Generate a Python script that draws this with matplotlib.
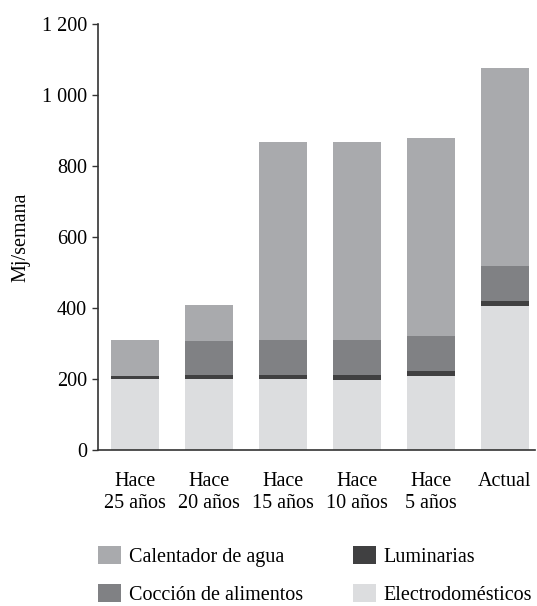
import matplotlib
matplotlib.use("Agg")
import matplotlib.pyplot as plt
import numpy as np
from matplotlib.patches import Patch

categories = ["Hace\n25 años", "Hace\n20 años", "Hace\n15 años", "Hace\n10 años", "Hace\n5 años", "Actual"]
electrodomesticos = [199, 200, 200, 197, 208, 407]
luminarias = [10, 11, 10, 13, 14, 13]
coccion = [0, 96, 100, 100, 99, 99]
calentador = [101, 102, 558, 558, 559, 558]
yticks = [0, 200, 400, 600, 800, 1000, 1200]
ytick_labels = ["0", "200", "400", "600", "800", "1 000", "1 200"]

series = [
    ("Electrodomésticos", electrodomesticos, "#dcdddf"),
    ("Luminarias", luminarias, "#404041"),
    ("Cocción de alimentos", coccion, "#808184"),
    ("Calentador de agua", calentador, "#a9aaad"),
]

plt.rcParams['font.family'] = ['Liberation Serif', 'DejaVu Serif']
FS = 14.5

fig = plt.figure(figsize=(5.37, 6.06), dpi=100)
ax = fig.add_axes([98/537, 1-450/606, (535-98)/537, (450-24)/606])

x = np.arange(len(categories))
bottom = np.zeros(len(categories))
handles = {}
for name, vals, col in series:
    v = np.array(vals, dtype=float)
    ax.bar(x, v, width=0.65, bottom=bottom, color=col, edgecolor='none', linewidth=0)
    bottom += v
    handles[name] = Patch(facecolor=col, edgecolor='none')

ax.set_xlim(-0.5, 5.41)
ax.set_ylim(0, 1200)
ax.set_yticks(yticks)
ax.set_yticklabels(ytick_labels)
ax.set_xticks(x)
ax.set_xticklabels(categories, linespacing=1.2)
ax.tick_params(axis='x', length=0, pad=16, labelsize=FS)
ax.tick_params(axis='y', length=4, width=1.0, color='#333333', pad=4, labelsize=FS)
for s in ['top', 'right']:
    ax.spines[s].set_visible(False)
for s in ['left', 'bottom']:
    ax.spines[s].set_color('#333333')
    ax.spines[s].set_linewidth(1.2)
ax.set_ylabel("Mj/semana", fontsize=FS, labelpad=8)

order = ["Calentador de agua", "Cocción de alimentos", "Luminarias", "Electrodomésticos"]
fig.legend([handles[n] for n in order], order, ncol=2, loc='upper left',
           bbox_to_anchor=(92/537, 1-540/606), frameon=False, fontsize=FS,
           handlelength=1.15, handleheight=0.97, handletextpad=0.4,
           columnspacing=2.45, labelspacing=0.88, borderaxespad=0, borderpad=0.3)

fig.savefig("out.png", dpi=100)
